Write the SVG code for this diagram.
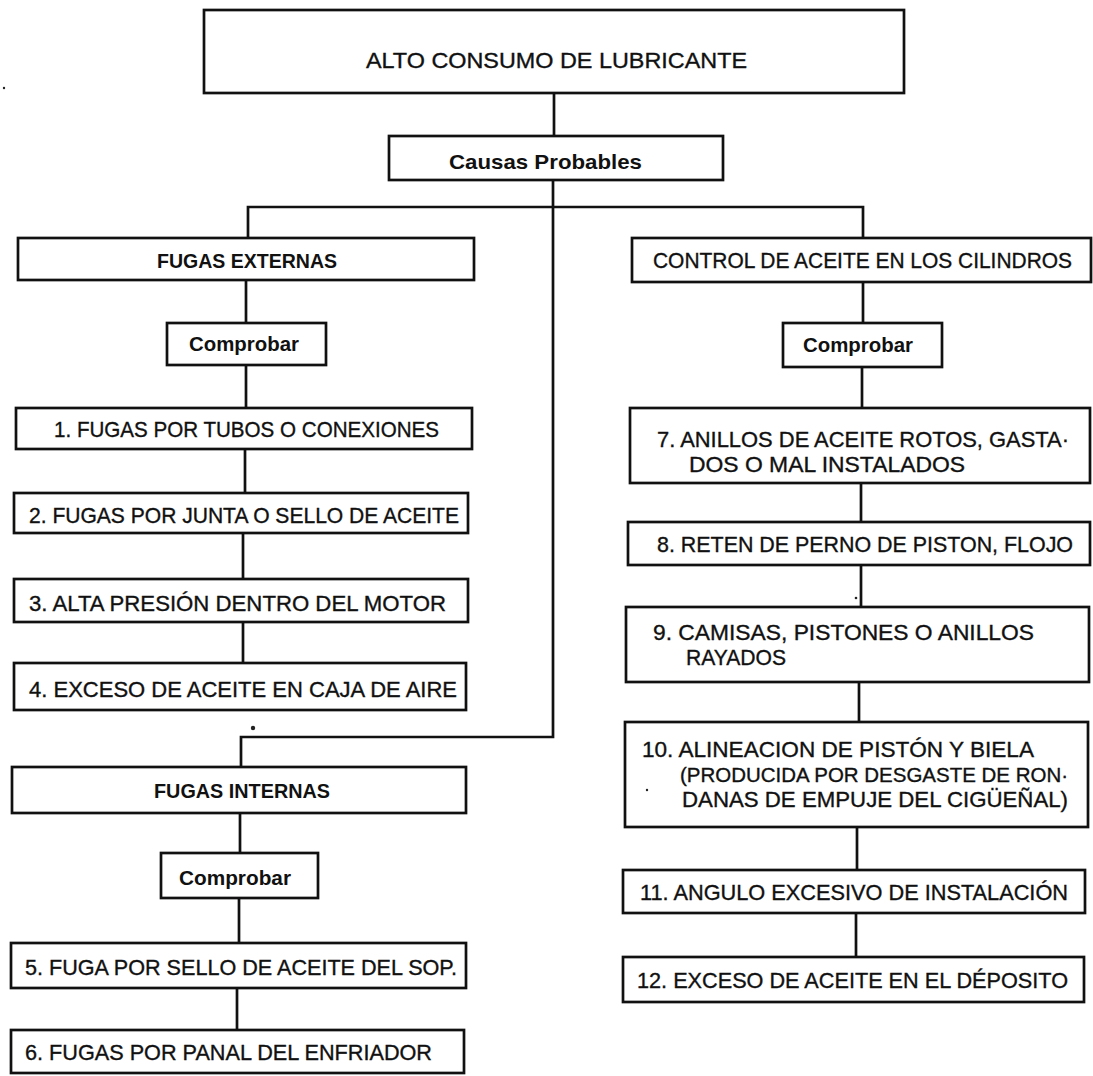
<svg xmlns="http://www.w3.org/2000/svg" width="1093" height="1076" viewBox="0 0 1093 1076">
  <style>
    .box { fill: #ffffff; stroke: #111111; stroke-width: 2.7; }
    .wire { fill: none; stroke: #111111; stroke-width: 2.7; stroke-linejoin: miter; stroke-linecap: square; }
    .t { font-family: "Liberation Sans", Arial, sans-serif; font-size: 22px; fill: #111111; stroke: #111111; stroke-width: 0.35; }
    .ts { font-family: "Liberation Sans", Arial, sans-serif; font-size: 20px; fill: #111111; stroke: #111111; stroke-width: 0.35; }
    .b { font-family: "Liberation Sans", Arial, sans-serif; font-size: 21px; font-weight: bold; fill: #111111; }
    .speck { fill: #222222; }
  </style>
  <rect width="1093" height="1076" fill="#ffffff"/>

  <!-- connectors -->
  <g id="connectors">
    <path class="wire" d="M554 93 V136"/>
    <path class="wire" d="M553 180 V737 H241 V767"/>
    <path class="wire" d="M248 238 V207 H863 V238"/>
    <path class="wire" d="M246 280 V323"/>
    <path class="wire" d="M246 365 V408"/>
    <path class="wire" d="M245 449 V493"/>
    <path class="wire" d="M243 533 V579"/>
    <path class="wire" d="M243 622 V663"/>
    <path class="wire" d="M240 813 V853"/>
    <path class="wire" d="M239 898 V943"/>
    <path class="wire" d="M237 988 V1030"/>
    <path class="wire" d="M863 282 V323"/>
    <path class="wire" d="M862 367 V408"/>
    <path class="wire" d="M861 483 V522"/>
    <path class="wire" d="M861 565 V607"/>
    <path class="wire" d="M859 682 V722"/>
    <path class="wire" d="M857 827 V870"/>
    <path class="wire" d="M856 913 V957"/>
  </g>

  <g id="root">
    <rect class="box" x="204" y="10" width="700" height="83"/>
    <text class="t" x="366" y="68" textLength="381" lengthAdjust="spacingAndGlyphs">ALTO  CONSUMO  DE  LUBRICANTE</text>
  </g>
  <g id="causas">
    <rect class="box" x="389" y="136" width="334" height="44"/>
    <text class="b" x="449" y="169" textLength="193" lengthAdjust="spacingAndGlyphs">Causas Probables</text>
  </g>

  <!-- left branch: external leaks -->
  <g id="fugas-externas">
    <rect class="box" x="18" y="238" width="456" height="42"/>
    <text class="b" x="157" y="268" textLength="180" lengthAdjust="spacingAndGlyphs">FUGAS EXTERNAS</text>
  </g>
  <g id="comprobar-ext">
    <rect class="box" x="167" y="323" width="159" height="42"/>
    <text class="b" x="189" y="351" textLength="110" lengthAdjust="spacingAndGlyphs">Comprobar</text>
  </g>
  <g id="c1">
    <rect class="box" x="16" y="408" width="456" height="41"/>
    <text class="t" x="54" y="437" textLength="385" lengthAdjust="spacingAndGlyphs">1.  FUGAS  POR  TUBOS  O  CONEXIONES</text>
  </g>
  <g id="c2">
    <rect class="box" x="14" y="493" width="454" height="40"/>
    <text class="t" x="29" y="523" textLength="430" lengthAdjust="spacingAndGlyphs">2.  FUGAS  POR  JUNTA  O  SELLO  DE  ACEITE</text>
  </g>
  <g id="c3">
    <rect class="box" x="14" y="579" width="454" height="43"/>
    <text class="t" x="29" y="611" textLength="417" lengthAdjust="spacingAndGlyphs">3.  ALTA  PRESIÓN  DENTRO  DEL  MOTOR</text>
  </g>
  <g id="c4">
    <rect class="box" x="14" y="663" width="452" height="47"/>
    <text class="t" x="29" y="697" textLength="428" lengthAdjust="spacingAndGlyphs">4.  EXCESO  DE  ACEITE  EN  CAJA  DE  AIRE</text>
  </g>

  <!-- left branch: internal leaks -->
  <g id="fugas-internas">
    <rect class="box" x="12" y="767" width="454" height="46"/>
    <text class="b" x="154" y="798" textLength="176" lengthAdjust="spacingAndGlyphs">FUGAS INTERNAS</text>
  </g>
  <g id="comprobar-int">
    <rect class="box" x="161" y="853" width="157" height="45"/>
    <text class="b" x="179" y="885" textLength="112" lengthAdjust="spacingAndGlyphs">Comprobar</text>
  </g>
  <g id="c5">
    <rect class="box" x="11" y="943" width="455" height="45"/>
    <text class="t" x="25" y="975" textLength="432" lengthAdjust="spacingAndGlyphs">5.  FUGA  POR  SELLO  DE  ACEITE  DEL  SOP.</text>
  </g>
  <g id="c6">
    <rect class="box" x="11" y="1030" width="453" height="43"/>
    <text class="t" x="25" y="1060" textLength="407" lengthAdjust="spacingAndGlyphs">6.  FUGAS  POR  PANAL  DEL  ENFRIADOR</text>
  </g>

  <!-- right branch: oil control in the cylinders -->
  <g id="control-aceite">
    <rect class="box" x="632" y="238" width="459" height="44"/>
    <text class="t" x="653" y="268" textLength="419" lengthAdjust="spacingAndGlyphs">CONTROL  DE  ACEITE  EN  LOS  CILINDROS</text>
  </g>
  <g id="comprobar-cil">
    <rect class="box" x="783" y="323" width="159" height="44"/>
    <text class="b" x="803" y="352" textLength="110" lengthAdjust="spacingAndGlyphs">Comprobar</text>
  </g>
  <g id="c7">
    <rect class="box" x="630" y="408" width="460" height="75"/>
    <text class="t" x="657" y="447" textLength="412" lengthAdjust="spacingAndGlyphs">7.  ANILLOS  DE  ACEITE  ROTOS,  GASTA·</text>
    <text class="t" x="689" y="472" textLength="276" lengthAdjust="spacingAndGlyphs">DOS  O  MAL  INSTALADOS</text>
  </g>
  <g id="c8">
    <rect class="box" x="628" y="522" width="462" height="43"/>
    <text class="t" x="657" y="552" textLength="416" lengthAdjust="spacingAndGlyphs">8.  RETEN  DE  PERNO  DE  PISTON,  FLOJO</text>
  </g>
  <g id="c9">
    <rect class="box" x="626" y="607" width="463" height="75"/>
    <text class="t" x="653" y="640" textLength="381" lengthAdjust="spacingAndGlyphs">9.  CAMISAS,  PISTONES  O  ANILLOS</text>
    <text class="t" x="686" y="665" textLength="100" lengthAdjust="spacingAndGlyphs">RAYADOS</text>
  </g>
  <g id="c10">
    <rect class="box" x="625" y="722" width="463" height="105"/>
    <text class="t" x="642" y="757" textLength="392" lengthAdjust="spacingAndGlyphs">10.  ALINEACION  DE  PISTÓN  Y  BIELA</text>
    <text class="ts" x="680" y="782" textLength="388" lengthAdjust="spacingAndGlyphs">(PRODUCIDA POR DESGASTE DE RON·</text>
    <text class="t" x="682" y="807" textLength="386" lengthAdjust="spacingAndGlyphs">DANAS  DE  EMPUJE  DEL  CIGÜEÑAL)</text>
  </g>
  <g id="c11">
    <rect class="box" x="623" y="870" width="462" height="43"/>
    <text class="t" x="640" y="900" textLength="428" lengthAdjust="spacingAndGlyphs">11.  ANGULO  EXCESIVO  DE  INSTALACIÓN</text>
  </g>
  <g id="c12">
    <rect class="box" x="623" y="957" width="461" height="45"/>
    <text class="t" x="637" y="988" textLength="431" lengthAdjust="spacingAndGlyphs">12.  EXCESO  DE  ACEITE  EN  EL  DÉPOSITO</text>
  </g>

  <!-- loose print specks -->
  <g id="specks">
    <circle class="speck" cx="253" cy="728" r="2.2"/>
    <circle class="speck" cx="4" cy="88" r="1.2"/>
    <circle class="speck" cx="856" cy="598" r="1.3"/>
    <circle class="speck" cx="647" cy="790" r="1.2"/>
  </g>
</svg>
